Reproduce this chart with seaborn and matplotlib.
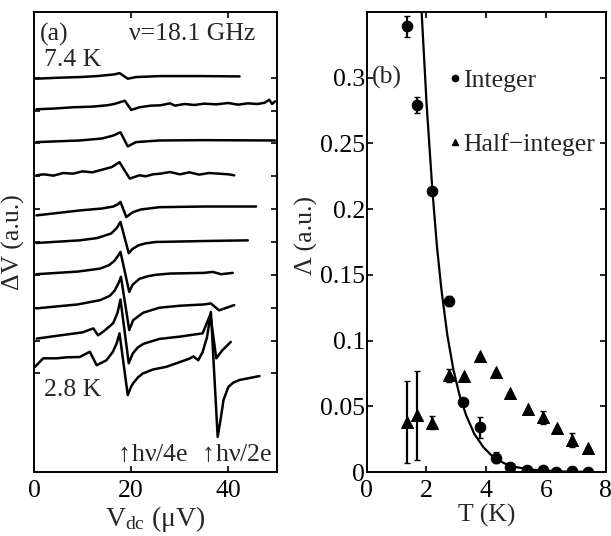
import numpy as np
import pandas as pd
import matplotlib
matplotlib.use("Agg")
import matplotlib.pyplot as plt
from matplotlib.lines import Line2D
import seaborn as sns

# ---- panel (a): dV/dI traces, offset per temperature (top 7.4 K -> bottom 2.8 K)
trace_names = ["7.4 K", "t2", "t3", "t4", "t5", "t6", "t7", "t8", "t9", "2.8 K"]

v1 = [0.4, 5, 9.4, 13, 16.5, 17.6, 19.3, 21.0, 26, 34, 42.3]
d1 = [11.97, 12.0, 12.02, 12.05, 12.1, 12.14, 11.97, 12.02, 12.05, 12.05, 12.04]

v2 = [0.5, 4, 8, 12, 15, 16.5, 18.7, 20.0, 21.7, 24, 26, 28, 29, 31, 33, 35, 37.5, 40, 42, 44, 46, 47.5, 48.4, 49.0, 49.6]
d2 = [11.04, 11.06, 11.10, 11.12, 11.16, 11.2, 11.30, 11.02, 11.10, 11.15, 11.16, 11.22, 11.15, 11.2, 11.17,
      11.21, 11.19, 11.23, 11.18, 11.22, 11.2, 11.24, 11.33, 11.2, 11.28]

v3 = [0.5, 9.4, 14, 16.3, 17.8, 19.3, 20.2, 21.0, 25.8, 35, 49.6]
d3 = [10.04, 10.09, 10.15, 10.24, 10.34, 9.91, 9.98, 10.04, 10.09, 10.1, 10.09]

v4 = [0.5, 2, 4, 6, 8, 10, 12, 14, 16, 17.6, 19.7, 21.7, 23, 24.5, 26, 28, 30, 32, 34, 36, 38, 40, 41.2]
d4 = [9.03, 9.06, 9.02, 9.1, 9.08, 9.15, 9.12, 9.2, 9.28, 9.43, 8.93, 9.03, 9.0, 9.06, 9.08, 9.13, 9.06,
      9.12, 9.05, 9.1, 9.08, 9.06, 9.03]

v5 = [0.5, 9.4, 14, 16.3, 17.3, 17.8, 19.0, 19.8, 20.4, 22, 25.8, 35, 45.7]
d5 = [7.81, 7.96, 8.02, 8.08, 8.15, 8.22, 7.76, 7.85, 7.91, 7.99, 8.06, 8.08, 8.08]

v6 = [0.5, 9.4, 13, 15.9, 17.0, 17.8, 19.5, 20.2, 21.5, 23, 25, 35, 44]
d6 = [6.97, 7.05, 7.12, 7.26, 7.42, 7.61, 6.66, 6.78, 6.9, 6.96, 7.0, 7.03, 7.05]

v7 = [0.5, 9, 13.6, 15.5, 16.5, 17.3, 17.8, 19.6, 20.3, 21.7, 23.5, 25, 28, 35, 36.8, 38.5, 40.9]
d7 = [6.02, 6.1, 6.19, 6.3, 6.42, 6.58, 6.70, 5.48, 5.7, 5.88, 5.96, 6.0, 6.04, 6.06, 6.09, 6.02, 6.06]

v8 = [0.5, 9, 13.6, 15.6, 16.6, 17.4, 17.9, 19.6, 20.4, 22.5, 25.8, 30, 35, 36.4, 38.1, 41.2]
d8 = [4.98, 5.1, 5.23, 5.36, 5.52, 5.75, 5.94, 4.32, 4.62, 4.85, 5.0, 5.06, 5.1, 5.13, 4.92, 5.08]

v9 = [0.55, 5, 10, 12.2, 13.2, 14.5, 16.3, 17.2, 17.8, 19.5, 20.3, 21.3, 22.5, 25.8, 30, 34.7, 36.3, 37.5,
      38.8, 40.5]
d9 = [4.06, 4.15, 4.25, 4.37, 4.16, 4.3, 4.53, 4.85, 5.25, 3.31, 3.6, 3.78, 3.9, 4.05, 4.12, 4.22, 4.8, 3.46,
      3.71, 3.96]

v10 = [0.2, 1.9, 4.7, 6.7, 9.4, 11.5, 12.9, 14.9, 16.2, 17.0, 17.6, 19.3, 20.0, 20.4, 21.4, 22.4, 24.5, 27.2,
       32.0, 32.8, 33.8, 34.7, 35.6, 36.4, 37.8, 38.4, 39.0, 40.0, 41.0, 42.3, 44.0, 46.4]
d10 = [3.20, 3.46, 3.46, 3.49, 3.50, 3.66, 3.25, 3.40, 3.65, 3.91, 4.22, 2.34, 2.6, 2.70, 2.88, 3.00, 3.12,
       3.20, 3.45, 3.52, 3.40, 3.65, 4.1, 4.87, 1.07, 1.6, 2.19, 2.59, 2.72, 2.8, 2.85, 2.92]

vdc_ticks = [0, 20, 40]

# ---- panel (b): amplitude vs temperature
T_int = [1.35, 1.68, 2.20, 2.75, 3.22, 3.78, 4.31, 4.81, 5.37, 5.88, 6.34, 6.88, 7.41]
L_int = [0.339, 0.279, 0.214, 0.130, 0.053, 0.034, 0.011, 0.0036, 0.0012, 0.0015, 0.0003, 0.001, 0.0003]
E_int = [0.008, 0.006, 0.002, 0.004, 0.002, 0.008, 0.004, 0.003, 0.001, 0.001, 0.001, 0.001, 0.001]

T_half = [1.35, 1.68, 2.20, 2.75, 3.24, 3.79, 4.31, 4.81, 5.38, 5.88, 6.37, 6.88, 7.41]
L_half = [0.038, 0.043, 0.0375, 0.0737, 0.0729, 0.0884, 0.0762, 0.0603, 0.0479, 0.0416, 0.0332, 0.0243, 0.018]
E_half = [0.031, 0.034, 0.005, 0.005, 0.0, 0.0, 0.0, 0.0, 0.0, 0.005, 0.0, 0.005, 0.0]

T_fit = [1.84, 2.0, 2.2, 2.35, 2.5, 2.7, 2.9, 3.1, 3.33, 3.6, 3.9, 4.2, 4.6, 5.0, 5.5, 6.0, 6.5, 7.0, 7.5]
L_fit = [0.350, 0.282, 0.214, 0.172, 0.139, 0.104, 0.078, 0.059, 0.043, 0.029, 0.019, 0.012, 0.0066,
         0.0037, 0.0018, 0.0009, 0.0004, 0.0002, 0.0001]

T_ticks = [0, 2, 4, 6, 8]
L_ticks = [0, 0.05, 0.1, 0.15, 0.2, 0.25, 0.3]
L_ticklabels = ["0", "0.05", "0.1", "0.15", "0.2", "0.25", "0.3"]

sns.set_theme(style="ticks")
plt.rcParams["font.family"] = ["Liberation Serif", "DejaVu Serif"]
plt.rcParams["mathtext.fontset"] = "custom"
plt.rcParams["mathtext.rm"] = "Liberation Serif"
plt.rcParams["mathtext.it"] = "Liberation Serif:italic"
plt.rcParams["axes.linewidth"] = 1.4
FS = 18.5


def style_axes(ax):
    ax.tick_params(direction="in", top=True, right=True, length=4, width=1.2,
                   labelsize=FS, colors="black")
    ax.tick_params(axis="x", pad=6)
    ax.tick_params(axis="y", pad=2)
    for s in ax.spines.values():
        s.set_color("black")
        s.set_visible(True)


fig = plt.figure(figsize=(6.11, 5.36), dpi=100)
ax1 = fig.add_axes([0.0556, 0.1194, 0.3977, 0.8582])
ax2 = fig.add_axes([0.600, 0.1194, 0.3917, 0.8582])

# panel (a)
xs = [v1, v2, v3, v4, v5, v6, v7, v8, v9, v10]
ys = [d1, d2, d3, d4, d5, d6, d7, d8, d9, d10]
traces = pd.concat(
    [pd.DataFrame({"vdc": x, "dv": y, "trace": n}) for x, y, n in zip(xs, ys, trace_names)],
    ignore_index=True,
)
sns.lineplot(data=traces, x="vdc", y="dv", units="trace", estimator=None, sort=False,
             color="black", lw=1.8, ax=ax1)
ax1.set_xlim(0, 50)
ax1.set_ylim(0, 14)
ax1.set_xticks(vdc_ticks)
ax1.set_yticks(np.arange(3, 13))
ax1.set_yticklabels([])
style_axes(ax1)
ax1.set_xlabel(r"V$_{\rm dc}$ (μV)", fontsize=FS + 1.5, labelpad=1)
ax1.set_ylabel("ΔV (a.u.)", fontsize=FS)
ax1.yaxis.set_label_coords(-0.038, 0.50)

ax1.text(0.025, 0.952, "(a)", transform=ax1.transAxes, fontsize=FS, va="center", ha="left")
ax1.text(0.39, 0.952, "ν=18.1 GHz", transform=ax1.transAxes, fontsize=FS, va="center", ha="left")
ax1.text(0.04, 0.895, "7.4 K", transform=ax1.transAxes, fontsize=FS, va="center", ha="left")
ax1.text(0.04, 0.178, "2.8 K", transform=ax1.transAxes, fontsize=FS, va="center", ha="left")
ax1.text(0.33, 0.037, r"$\uparrow\!$hν/4e", transform=ax1.transAxes, fontsize=FS, va="center", ha="left")
ax1.text(0.675, 0.037, r"$\uparrow\!$hν/2e", transform=ax1.transAxes, fontsize=FS, va="center", ha="left")

# panel (b)
sns.lineplot(x=T_fit, y=L_fit, color="black", lw=1.6, sort=False, ax=ax2)
ax2.errorbar(T_int, L_int, yerr=E_int, fmt="none", ecolor="black", elinewidth=1.6, capsize=2)
ax2.errorbar(T_half, L_half, yerr=E_half, fmt="none", ecolor="black", elinewidth=1.6, capsize=2)
sns.scatterplot(x=T_int, y=L_int, marker="o", s=60, color="black", edgecolor="black", ax=ax2, zorder=5)
sns.scatterplot(x=T_half, y=L_half, marker="^", s=75, color="black", edgecolor="black", ax=ax2, zorder=5)
ax2.set_xlim(0, 8)
ax2.set_ylim(0, 0.35)
ax2.set_xticks(T_ticks)
ax2.set_yticks(L_ticks)
ax2.set_yticklabels(L_ticklabels)
style_axes(ax2)
ax2.tick_params(axis="y", pad=1)
ax2.set_xlabel("T (K)", fontsize=FS, labelpad=1)
ax2.set_ylabel("Λ (a.u.)", fontsize=FS)
ax2.yaxis.set_label_coords(-0.205, 0.515)
ax2.text(0.02, 0.857, "(b)", transform=ax2.transAxes, fontsize=FS, va="center", ha="left")

handles = [Line2D([], [], marker="o", ls="", color="black", ms=4.5),
           Line2D([], [], marker="^", ls="", color="black", ms=4.5)]
ax2.legend(handles, ["Integer", "Half\u2212integer"], loc="upper left", bbox_to_anchor=(0.30, 0.898),
           frameon=False, fontsize=FS, handlelength=0.5, handletextpad=0.05, labelspacing=1.6,
           borderaxespad=0)

fig.savefig("out.png", dpi=100)
